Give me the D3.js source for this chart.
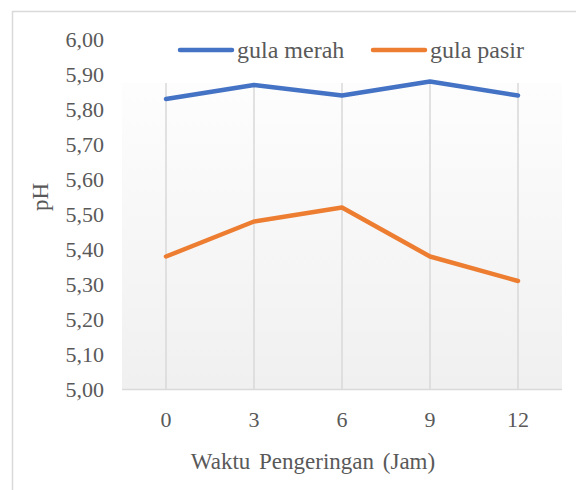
<!DOCTYPE html>
<html>
<head>
<style>
body {margin: 0; background: #fff;}
</style>
<script src="https://d3js.org/d3.v7.min.js"></script>
</head>
<body>
<svg id="vis" width="576" height="490"></svg>
<script>
// data
var hours = ["0", "3", "6", "9", "12"];
var gulaMerah = [5.83, 5.87, 5.84, 5.88, 5.84];
var gulaPasir = [5.38, 5.48, 5.52, 5.38, 5.31];
var yTicks = [5.0, 5.1, 5.2, 5.3, 5.4, 5.5, 5.6, 5.7, 5.8, 5.9, 6.0];
var seriesNames = ["gula merah", "gula pasir"];
var seriesColors = ["#4472C4", "#ED7D31"];

var font = "'Liberation Serif', 'Times New Roman', Times, serif";
var svg = d3.select("#vis");

// chart border (runs off the right and bottom of the picture)
svg.append("rect")
    .attr("x", 12.5).attr("y", 11.5)
    .attr("width", 620).attr("height", 500)
    .style("fill", "#fff").style("stroke", "#d9d9d9").style("stroke-width", 1.5);

var x = d3.scalePoint().domain(hours).range([122, 562]).padding(0.5);
var y = d3.scaleLinear().domain([5, 6]).range([389.5, 39.5]);

var grad = svg.append("defs").append("linearGradient")
    .attr("id", "bg").attr("x1", 0).attr("y1", 0).attr("x2", 0).attr("y2", 1);
grad.append("stop").attr("offset", "0%").attr("stop-color", "#ffffff");
grad.append("stop").attr("offset", "100%").attr("stop-color", "#f0f0f0");

svg.append("rect")
    .attr("x", 122).attr("y", y(6))
    .attr("width", 440).attr("height", y(5) - y(6))
    .style("fill", "url(#bg)");

// vertical gridlines
svg.selectAll(".grid")
    .data(hours)
  .enter().append("line")
    .attr("x1", function(d) { return x(d); })
    .attr("x2", function(d) { return x(d); })
    .attr("y1", y(6)).attr("y2", y(5))
    .style("stroke", "#d9d9d9").style("stroke-width", 1.5);

// baseline
svg.append("line")
    .attr("x1", 122).attr("x2", 562)
    .attr("y1", y(5)).attr("y2", y(5))
    .style("stroke", "#d9d9d9").style("stroke-width", 1.5);

function label(sel, size) {
  return sel.attr("font-family", font)
    .attr("font-size", size)
    .attr("fill", "#595959")
    .attr("dy", "0.35em");
}

// y axis labels
label(svg.selectAll(".ylab")
    .data(yTicks)
  .enter().append("text"), 22)
    .attr("x", 104)
    .attr("y", function(d) { return y(d); })
    .attr("text-anchor", "end")
    .text(function(d) { return d.toFixed(2).replace(".", ","); });

// x axis labels
label(svg.selectAll(".xlab")
    .data(hours)
  .enter().append("text"), 22)
    .attr("x", function(d) { return x(d); })
    .attr("y", 419)
    .attr("text-anchor", "middle")
    .text(function(d) { return d; });

// axis titles
label(svg.append("text"), 23)
    .attr("x", 313).attr("y", 461)
    .attr("text-anchor", "middle")
    .style("word-spacing", "3px")
    .text("Waktu Pengeringan (Jam)");

label(svg.append("text"), 23)
    .attr("transform", "translate(40,197) rotate(-90)")
    .attr("text-anchor", "middle")
    .text("pH");

// legend box (white fill covers the top of the plot)
svg.append("rect")
    .attr("x", 120).attr("y", 24)
    .attr("width", 444).attr("height", 59)
    .style("fill", "#fff");

var legendX = [180, 373];
var legend = svg.selectAll(".legend")
    .data(seriesNames)
  .enter().append("g")
    .attr("transform", function(d, i) { return "translate(" + legendX[i] + ",50)"; });
legend.append("line")
    .attr("x1", 0).attr("x2", 52)
    .style("stroke", function(d, i) { return seriesColors[i]; })
    .style("stroke-width", 4.5)
    .style("stroke-linecap", "round");
label(legend.append("text"), 24)
    .attr("x", 57)
    .text(function(d) { return d; });

// lines
var line = d3.line()
    .x(function(d, i) { return x(hours[i]); })
    .y(function(d) { return y(d); });

svg.selectAll(".series")
    .data([gulaMerah, gulaPasir])
  .enter().append("path")
    .attr("d", line)
    .style("fill", "none")
    .style("stroke", function(d, i) { return seriesColors[i]; })
    .style("stroke-width", 4.5)
    .style("stroke-linecap", "round")
    .style("stroke-linejoin", "round");
</script>
</body>
</html>
